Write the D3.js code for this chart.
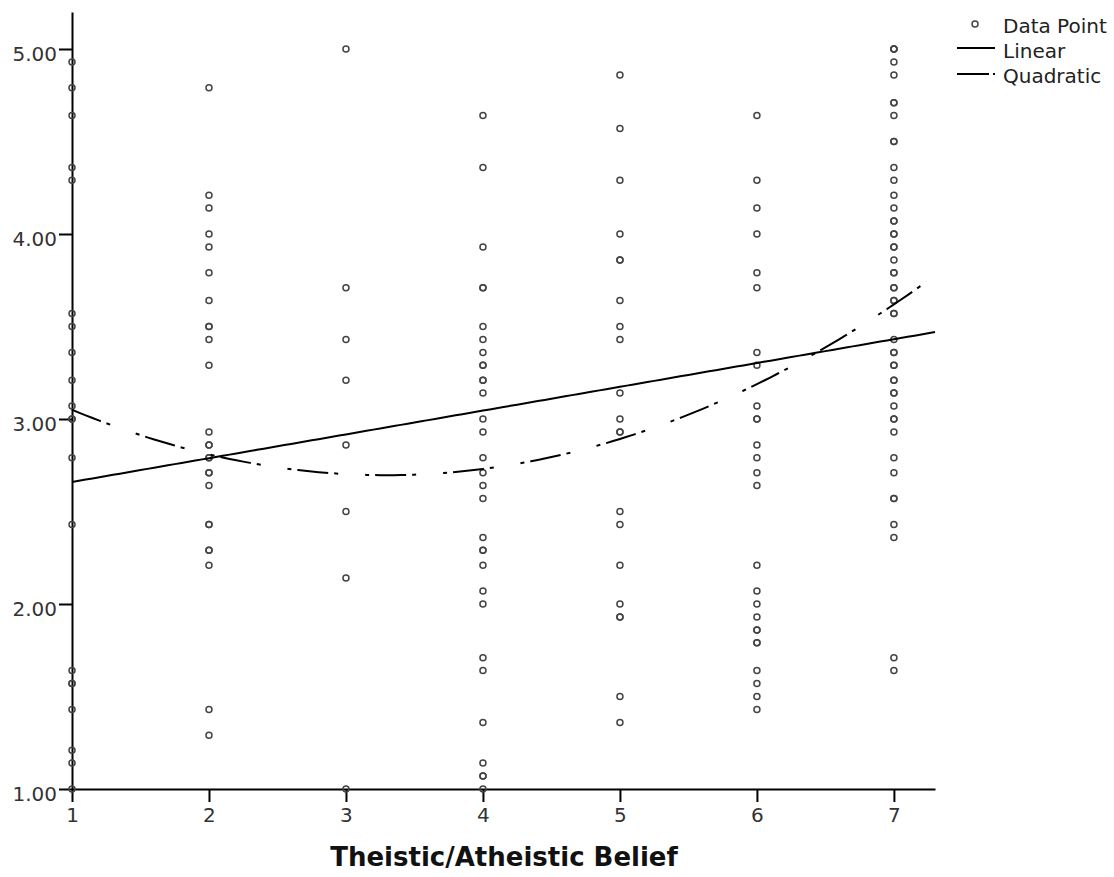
<!DOCTYPE html>
<html>
<head>
<meta charset="utf-8">
<script src="https://cdn.jsdelivr.net/npm/d3@7"></script>
<style>
  body { margin: 0; background: #fff; }
  text { font-family: "DejaVu Sans", sans-serif; }
</style>
</head>
<body>
<svg id="chart" width="1114" height="877"></svg>
<script>
  // belief level (x) and the scores read at each level
  var beliefLevels = [1, 2, 3, 4, 5, 6, 7];
  var scores1 = [4.93, 4.79, 4.64, 4.36, 4.29, 3.57, 3.50, 3.36, 3.21, 3.07, 3.00, 3.00, 2.79, 2.43, 1.64, 1.57, 1.57, 1.43, 1.21, 1.14, 1.00];
  var scores2 = [4.79, 4.21, 4.14, 4.00, 3.93, 3.79, 3.64, 3.50, 3.50, 3.43, 3.29, 2.93, 2.86, 2.86, 2.79, 2.79, 2.71, 2.71, 2.64, 2.43, 2.43, 2.29, 2.29, 2.21, 1.43, 1.29];
  var scores3 = [5.00, 3.71, 3.43, 3.21, 2.86, 2.50, 2.14, 1.00];
  var scores4 = [4.64, 4.36, 3.93, 3.71, 3.71, 3.50, 3.43, 3.36, 3.29, 3.29, 3.21, 3.21, 3.14, 3.00, 2.93, 2.79, 2.71, 2.64, 2.57, 2.36, 2.29, 2.29, 2.21, 2.07, 2.00, 1.71, 1.64, 1.36, 1.14, 1.07, 1.07, 1.00];
  var scores5 = [4.86, 4.57, 4.29, 4.00, 3.86, 3.86, 3.64, 3.50, 3.43, 3.14, 3.00, 2.93, 2.93, 2.50, 2.43, 2.21, 2.00, 1.93, 1.93, 1.50, 1.36];
  var scores6 = [4.64, 4.29, 4.14, 4.00, 3.79, 3.71, 3.36, 3.29, 3.07, 3.00, 3.00, 2.86, 2.79, 2.71, 2.64, 2.21, 2.07, 2.00, 1.93, 1.86, 1.86, 1.79, 1.79, 1.64, 1.57, 1.50, 1.43];
  var scores7 = [5.00, 5.00, 5.00, 4.93, 4.86, 4.71, 4.71, 4.64, 4.50, 4.50, 4.36, 4.29, 4.21, 4.14, 4.07, 4.07, 4.00, 4.00, 3.93, 3.93, 3.86, 3.79, 3.79, 3.71, 3.71, 3.64, 3.64, 3.57, 3.57, 3.43, 3.36, 3.36, 3.29, 3.29, 3.21, 3.21, 3.14, 3.14, 3.07, 3.00, 3.00, 2.93, 2.79, 2.71, 2.57, 2.57, 2.43, 2.36, 1.71, 1.64];

  // fit coefficients: [c0, c1, c2...]
  var linearFit = [2.531, 0.1286];
  var quadraticFit = [3.4255, -0.4427, 0.0672];

  var yTickValues = [1, 2, 3, 4, 5];
  var xTickValues = [1, 2, 3, 4, 5, 6, 7];
  var legendLabels = ['Data Point', 'Linear', 'Quadratic'];
  var xTitle = 'Theistic/Atheistic Belief';

  var scoresByLevel = [scores1, scores2, scores3, scores4, scores5, scores6, scores7];
  var points = [];
  beliefLevels.forEach(function(lvl, i) {
    scoresByLevel[i].forEach(function(v) { points.push({ x: lvl, y: v }); });
  });

  var svg = d3.select('#chart');
  var x = d3.scaleLinear().domain([1, 7.3]).range([72, 935]);
  var y = d3.scaleLinear().domain([1, 5.2]).range([789, 12]);

  function evalPoly(c, v) { return c.reduce(function(s, k, i) { return s + k * Math.pow(v, i); }, 0); }

  // axes
  var yAxis = d3.axisLeft(y).tickValues(yTickValues).tickFormat(d3.format('.2f'))
    .tickSize(13).tickSizeOuter(0).tickPadding(2);
  var xAxis = d3.axisBottom(x).tickValues(xTickValues).tickFormat(d3.format('d'))
    .tickSize(13).tickSizeOuter(0).tickPadding(6);

  var gy = svg.append('g').attr('transform', 'translate(72,0)').call(yAxis);
  var gx = svg.append('g').attr('transform', 'translate(0,789)').call(xAxis);
  [gx, gy].forEach(function(g) {
    g.select('.domain').attr('stroke', '#000').attr('stroke-width', 2);
    g.selectAll('.tick line').attr('stroke', '#000').attr('stroke-width', 2);
    g.selectAll('.tick text').attr('font-size', 20).attr('fill', '#333')
      .style('font-family', '"DejaVu Sans", sans-serif');
  });
  gy.selectAll('.tick text').attr('dy', '0.55em');

  svg.append('text')
    .attr('x', 504).attr('y', 866)
    .attr('text-anchor', 'middle')
    .attr('font-size', 26).attr('font-weight', 'bold').attr('fill', '#111')
    .text(xTitle);

  // data points
  svg.append('g').selectAll('circle')
    .data(points)
    .enter().append('circle')
    .attr('cx', function(d) { return x(d.x); })
    .attr('cy', function(d) { return y(d.y); })
    .attr('r', 3)
    .attr('fill', 'none')
    .attr('stroke', '#444')
    .attr('stroke-width', 1.5);

  // fit curves
  var xs = d3.range(1, 7.3001, 0.05);
  var line = d3.line().x(function(d) { return x(d[0]); }).y(function(d) { return y(d[1]); });
  var quadDash = '31,6,4,27,4,6';

  svg.append('path')
    .attr('d', line(xs.map(function(v) { return [v, evalPoly(linearFit, v)]; })))
    .attr('fill', 'none').attr('stroke', '#000').attr('stroke-width', 2);
  svg.append('path')
    .attr('d', line(xs.map(function(v) { return [v, evalPoly(quadraticFit, v)]; })))
    .attr('fill', 'none').attr('stroke', '#000').attr('stroke-width', 2)
    .attr('stroke-dasharray', quadDash);

  // legend
  var lg = svg.append('g');
  lg.append('circle').attr('cx', 975).attr('cy', 24).attr('r', 3)
    .attr('fill', 'none').attr('stroke', '#444').attr('stroke-width', 1.5);
  lg.append('line').attr('x1', 957).attr('x2', 995).attr('y1', 48).attr('y2', 48)
    .attr('stroke', '#000').attr('stroke-width', 2);
  lg.append('line').attr('x1', 957).attr('x2', 995).attr('y1', 74).attr('y2', 74)
    .attr('stroke', '#000').attr('stroke-width', 2).attr('stroke-dasharray', '32,4,3,30');
  lg.selectAll('text.legend')
    .data(legendLabels)
    .enter().append('text')
    .attr('class', 'legend')
    .attr('x', 1003)
    .attr('y', function(d, i) { return 33 + i * 25; })
    .attr('font-size', 20).attr('fill', '#222')
    .text(function(d) { return d; });
</script>
</body>
</html>
